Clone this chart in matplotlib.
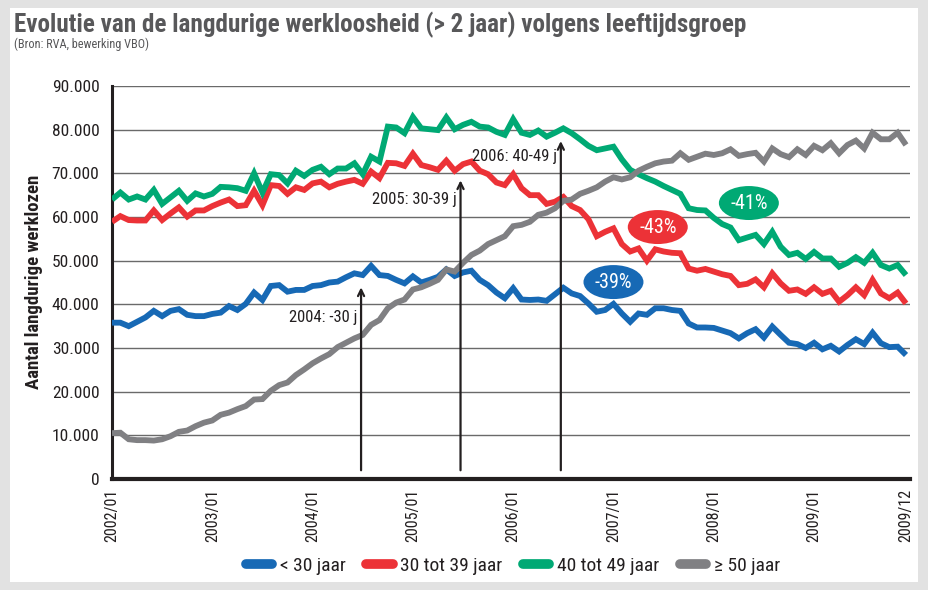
import matplotlib
matplotlib.use("Agg")
import matplotlib.pyplot as plt
from matplotlib import font_manager
from matplotlib.patches import Ellipse, Rectangle
from matplotlib.lines import Line2D
import numpy as np

# ---------------- data (thousands of long-term unemployed, monthly 2002/01 - 2009/12)
series_names = ["< 30 jaar", "30 tot 39 jaar", "40 tot 49 jaar", "\u2265 50 jaar"]

under30 = [35.8, 35.8, 35.0, 36.0, 37.0, 38.5, 37.3, 38.5, 38.9, 37.6, 37.3, 37.3,
           37.8, 38.1, 39.6, 38.7, 40.1, 42.7, 41.0, 44.2, 44.4, 42.9, 43.3, 43.3,
           44.2, 44.4, 45.0, 45.2, 46.2, 47.1, 46.7, 48.8, 46.7, 46.5, 45.6, 44.8,
           46.4, 45.0, 45.6, 46.3, 48.0, 46.5, 47.3, 47.7, 45.6, 44.4, 42.7, 41.4,
           43.7, 41.1, 41.0, 41.1, 40.8, 42.3, 43.8, 42.5, 41.9, 40.2, 38.3, 38.7,
           40.1, 37.9, 36.0, 37.9, 37.6, 39.1, 39.1, 38.7, 38.5, 35.6, 34.7, 34.7,
           34.6, 34.0, 33.4, 32.2, 33.4, 34.3, 32.4, 34.9, 33.0, 31.2, 30.9, 30.0,
           31.2, 29.7, 30.5, 29.2, 30.7, 32.0, 30.9, 33.5, 31.1, 30.2, 30.3, 28.4]

age30_39 = [58.9, 60.2, 59.3, 59.2, 59.2, 61.5, 59.3, 60.8, 62.2, 60.1, 61.5, 61.5,
            62.5, 63.3, 64.0, 62.5, 62.7, 66.0, 62.7, 67.3, 67.1, 65.3, 66.8, 66.2,
            67.7, 68.1, 66.8, 67.6, 68.1, 68.5, 67.6, 70.4, 68.9, 72.4, 72.3, 71.7,
            74.5, 71.9, 71.4, 70.8, 72.9, 70.6, 72.1, 72.7, 70.6, 69.8, 67.9, 67.3,
            69.8, 66.6, 65.0, 65.0, 63.0, 63.5, 64.6, 62.5, 61.6, 59.5, 55.6, 56.6,
            57.4, 53.8, 52.1, 52.8, 50.0, 52.6, 52.1, 51.8, 51.7, 48.2, 47.7, 48.1,
            47.5, 46.9, 46.5, 44.4, 44.7, 45.7, 43.9, 47.1, 44.8, 43.1, 43.4, 42.4,
            43.9, 42.4, 43.1, 40.6, 42.1, 43.9, 42.1, 45.6, 42.5, 41.4, 42.7, 40.2]

age40_49 = [64.0, 65.6, 64.0, 64.7, 64.0, 66.2, 63.0, 64.5, 66.0, 63.7, 65.4, 64.7,
            65.3, 66.9, 66.8, 66.6, 66.0, 70.0, 65.6, 69.8, 69.6, 67.7, 70.6, 69.4,
            70.8, 71.5, 69.8, 71.1, 71.1, 72.3, 69.8, 73.8, 72.7, 80.7, 80.5, 79.2,
            82.9, 80.3, 80.1, 79.9, 82.8, 80.1, 81.1, 81.8, 80.7, 80.5, 79.5, 78.8,
            82.4, 79.3, 78.8, 79.8, 78.4, 79.3, 80.3, 79.2, 77.8, 76.3, 75.3, 75.7,
            76.1, 73.2, 70.8, 69.8, 68.9, 68.1, 67.1, 66.2, 65.3, 62.0, 61.6, 61.5,
            59.8, 58.4, 57.6, 54.7, 55.3, 55.9, 53.8, 56.6, 53.2, 51.3, 51.8, 50.4,
            52.0, 50.5, 50.5, 48.6, 49.5, 50.8, 49.5, 51.8, 49.0, 48.2, 49.0, 46.7]

age50plus = [10.5, 10.6, 9.1, 8.9, 8.9, 8.8, 9.1, 9.8, 10.8, 11.1, 12.1, 12.9,
             13.4, 14.7, 15.2, 16.0, 16.7, 18.2, 18.3, 20.2, 21.5, 22.1, 23.8, 25.1,
             26.5, 27.6, 28.6, 30.2, 31.2, 32.2, 33.0, 35.3, 36.4, 39.1, 40.4, 41.1,
             43.4, 43.9, 44.7, 45.6, 48.0, 47.5, 49.5, 51.3, 52.3, 53.8, 54.7, 55.6,
             57.9, 58.2, 58.9, 60.5, 61.0, 62.0, 63.7, 64.0, 65.3, 66.0, 66.8, 68.1,
             69.1, 68.6, 69.1, 70.6, 71.5, 72.3, 72.7, 72.9, 74.6, 73.1, 73.8, 74.5,
             74.2, 74.6, 75.5, 74.0, 74.4, 74.7, 72.7, 75.7, 74.4, 73.7, 75.5, 74.2,
             76.3, 75.3, 76.9, 74.6, 76.5, 77.5, 75.7, 79.3, 77.8, 77.8, 79.3, 76.5]

tick_labels = ["2002/01", "2003/01", "2004/01", "2005/01", "2006/01",
               "2007/01", "2008/01", "2009/01", "2009/12"]
tick_months = [0, 12, 24, 36, 48, 60, 72, 84, 95]

y_ticks = [0, 10000, 20000, 30000, 40000, 50000, 60000, 70000, 80000, 90000]
y_tick_labels = ["0", "10.000", "20.000", "30.000", "40.000", "50.000",
                 "60.000", "70.000", "80.000", "90.000"]

# annotations: (label, month, arrow tip value)
arrow_notes = [("2004: -30 j", 29.8, 43900), ("2005: 30-39 j", 41.7, 68400),
               ("2006: 40-49 j", 53.7, 77400)]
pct_labels = ["-39%", "-43%", "-41%"]

colors = ["#1769b5", "#ec3237", "#00a974", "#808083"]

# ---------------- fonts
avail = {f.name for f in font_manager.fontManager.ttflist}
def pick(*names):
    for n in names:
        if n in avail:
            return n
    return "DejaVu Sans"
COND = pick("Liberation Sans Narrow", "Roboto Condensed", "Roboto", "Liberation Sans")
plt.rcParams["font.family"] = [COND, "DejaVu Sans"]

W, H = 929, 590
fig = plt.figure(figsize=(W / 100, H / 100), dpi=100)
fig.patch.set_facecolor("white")

# outer light-gray frame
fig.patches.append(Rectangle((0, 0), 1, 1, transform=fig.transFigure,
                             facecolor="#e2e2e2", edgecolor="none", zorder=-10))
fig.patches.append(Rectangle((10 / W, 8 / H), (918 - 10) / W, (582 - 8) / H,
                             transform=fig.transFigure, facecolor="white",
                             edgecolor="none", zorder=-9))

ax = fig.add_axes([112 / W, (H - 479) / H, (910 - 112) / W, (479 - 86) / H])
ax.set_facecolor("none")

x = np.arange(len(under30))
all_series = [under30, age30_39, age40_49, age50plus]
for vals, c in zip(all_series, colors):
    ax.plot(x, np.array(vals) * 1000, color=c, lw=4.2, solid_joinstyle="miter",
            solid_capstyle="butt", zorder=3)

ax.set_xlim(0, 95 * 798 / 794)
ax.set_ylim(0, 90000)
ax.set_yticks(y_ticks)
ax.set_yticklabels(y_tick_labels)
ax.set_xticks(tick_months)
ax.set_xticklabels(tick_labels, rotation=90, va="top", ha="center")
ax.tick_params(axis="both", length=0, colors="#231f20")
ax.tick_params(axis="y", pad=9, labelsize=12.5)
ax.tick_params(axis="x", pad=7, labelsize=11.5)
ax.yaxis.grid(True, color="#6a6a6a", lw=1.0, zorder=0)
ax.set_axisbelow(True)
for s in ["top", "right"]:
    ax.spines[s].set_visible(False)
ax.spines["left"].set_linewidth(2.2)
ax.spines["bottom"].set_linewidth(3.0)
ax.spines["left"].set_color("#231f20")
ax.spines["bottom"].set_color("#231f20")

ax.set_ylabel("Aantal langdurige werklozen", fontsize=12.5, fontweight="bold",
              color="#231f20")
ax.yaxis.set_label_coords(-(112 - 43) / (910 - 112), (479 - 282) / (479 - 86))

# arrows with labels
for (txt, m, tip), dy in zip(arrow_notes, [-22, -14, -11.5]):
    ax.annotate("", xy=(m, tip), xytext=(m, 2000),
                arrowprops=dict(arrowstyle="->,head_length=0.45,head_width=0.22",
                                lw=1.6, color="#231f20", shrinkA=0, shrinkB=0),
                zorder=5)
    ax.annotate(txt, xy=(m, tip), xytext=(-3, dy), textcoords="offset points",
                ha="right", va="center", fontsize=12, color="#231f20", zorder=6)

# percentage ellipses
ell_pos = [(60.0, 45100), (65.3, 57700), (76.2, 63200)]
for (cx, cy), lab, c in zip(ell_pos, pct_labels, [colors[0], colors[1], colors[2]]):
    ax.add_patch(Ellipse((cx, cy), 60 / 8.36, 34 / 43.7 * 10000, facecolor=c,
                         edgecolor="none", zorder=7))
    ax.text(cx, cy, lab, ha="center", va="center", color="white", fontsize=14.5,
            zorder=8)

# title & source
t1 = fig.text(14 / W, 1 - 25 / H, "Evolutie van de langdurige werkloosheid (> 2 jaar) volgens leeftijdsgroep",
              fontsize=17, fontweight="bold", color="#58585a", va="center", ha="left")
t2 = fig.text(14 / W, 1 - 44 / H, "(Bron: RVA, bewerking VBO)", fontsize=7.5,
              color="#58585a", va="center", ha="left")

# legend
handles = [Line2D([0], [0], color=c, lw=7, solid_capstyle="round") for c in colors]
leg = fig.legend(handles, series_names, loc="center", bbox_to_anchor=(513 / W, 1 - 566 / H),
                 ncol=4, frameon=False, fontsize=14, handlelength=1.35,
                 handletextpad=0.4, columnspacing=1.05, labelcolor="#231f20")

# fit widths
fig.canvas.draw()
r = fig.canvas.get_renderer()
def fit(t, target, vertical=False):
    bb = t.get_window_extent(r)
    w = bb.height if vertical else bb.width
    t.set_fontsize(t.get_fontsize() * target / w)
fit(t1, 748 - 14)
fit(t2, 148 - 14)
fit(ax.yaxis.label, 215, vertical=True)

fig.savefig("out.png", dpi=100, facecolor="white")
